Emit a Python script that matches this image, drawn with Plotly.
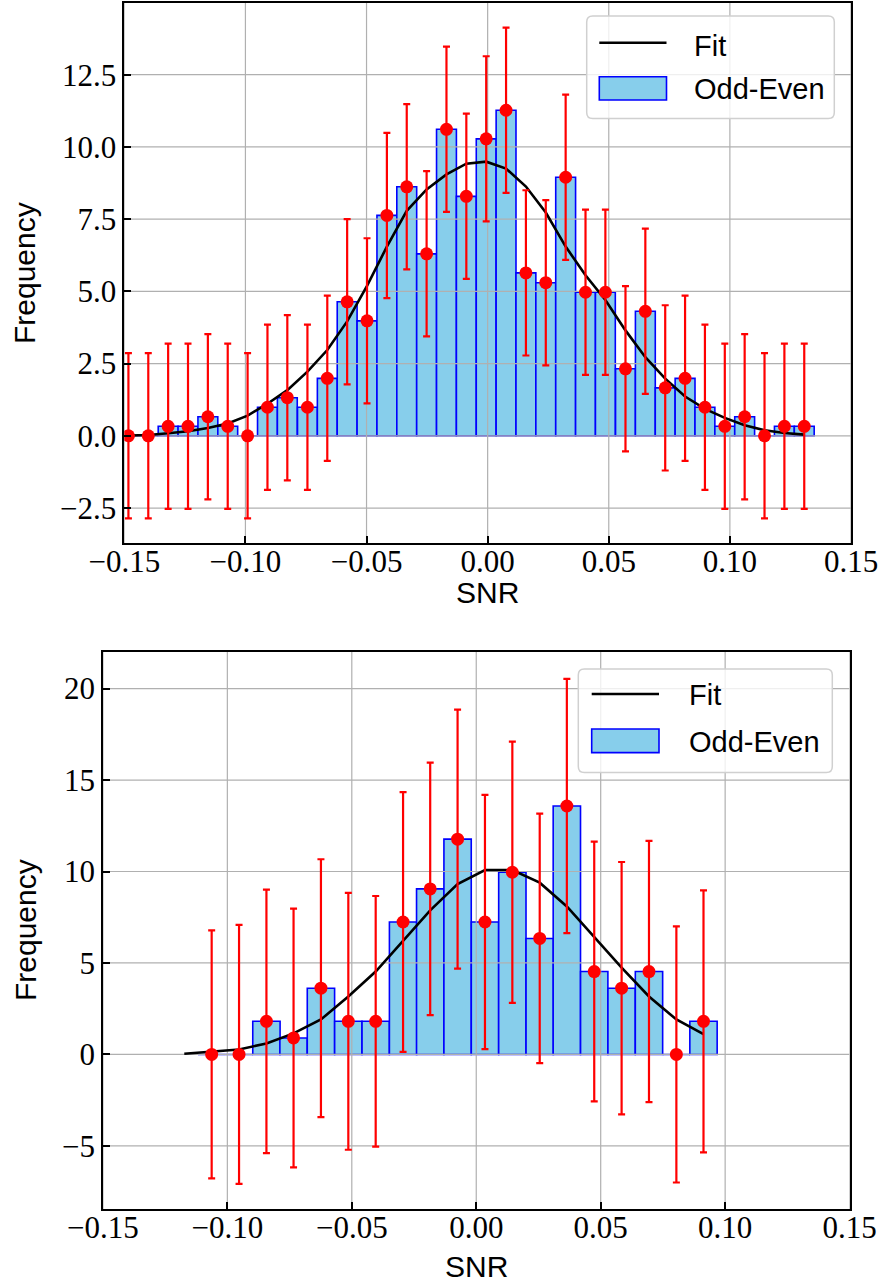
import plotly.graph_objects as go

W, H = 882, 1288

# ---------------- data ----------------
# Top panel
TOP_X = [-0.1483, -0.1401, -0.1319, -0.1237, -0.1155, -0.1073, -0.0991, -0.0909,
         -0.0827, -0.0744, -0.0662, -0.0580, -0.0498, -0.0416, -0.0334, -0.0252,
         -0.0170, -0.0088, -0.0006, 0.0076, 0.0158, 0.0240, 0.0322, 0.0404,
         0.0486, 0.0569, 0.0651, 0.0733, 0.0815, 0.0897, 0.0979, 0.1061,
         0.1143, 0.1225, 0.1307]
TOP_FREQ = [0.00, 0.00, 0.33, 0.33, 0.66, 0.33, 0.00, 0.99, 1.32, 0.99, 1.99,
            4.64, 3.98, 7.63, 8.62, 6.30, 10.61, 8.29, 10.28, 11.27, 5.64, 5.30,
            8.95, 4.97, 4.97, 2.32, 4.31, 1.66, 1.99, 0.99, 0.33, 0.66, 0.00,
            0.33, 0.33]
TOP_FIT = [0.01, 0.03, 0.09, 0.16, 0.27, 0.43, 0.70, 1.11, 1.58, 2.22, 2.97,
           3.96, 5.19, 6.55, 7.79, 8.53, 9.05, 9.42, 9.49, 9.25, 8.63, 7.73,
           6.55, 5.56, 4.70, 3.65, 2.72, 1.98, 1.36, 0.93, 0.62, 0.37, 0.19,
           0.10, 0.04]
TOP_ERR = 2.86
TOP_BIN_WIDTH = 0.0082

# Bottom panel
BOT_X = [-0.1063, -0.0953, -0.0843, -0.0734, -0.0624, -0.0514, -0.0404, -0.0294,
         -0.0185, -0.0075, 0.0035, 0.0145, 0.0255, 0.0364, 0.0474, 0.0584,
         0.0694, 0.0804, 0.0913]
BOT_FREQ = [0.00, 0.00, 1.81, 0.90, 3.62, 1.81, 1.81, 7.24, 9.05, 11.77, 7.24,
            9.96, 6.34, 13.58, 4.53, 3.62, 4.53, 0.00, 1.81]
BOT_ERR = [6.78, 7.08, 7.20, 7.07, 7.05, 7.02, 6.85, 7.10, 6.90, 7.08, 6.95,
           7.14, 6.82, 6.95, 7.10, 6.90, 7.14, 7.00, 7.16]
BOT_FIT_X = [-0.1173, -0.1063, -0.0953, -0.0843, -0.0734, -0.0624, -0.0514,
             -0.0404, -0.0294, -0.0185, -0.0075, 0.0035, 0.0145, 0.0255, 0.0364,
             0.0474, 0.0584, 0.0694, 0.0804, 0.0913]
BOT_FIT = [0.04, 0.15, 0.27, 0.60, 1.15, 1.91, 3.17, 4.53, 6.21, 7.88, 9.31,
           10.08, 10.08, 9.39, 8.09, 6.42, 4.74, 3.17, 1.91, 1.11]
BOT_BIN_WIDTH = 0.01098

# Ticks
X_TICKS = [-0.15, -0.10, -0.05, 0.00, 0.05, 0.10, 0.15]
X_TICK_TEXT = ['\u22120.15', '\u22120.10', '\u22120.05', '0.00', '0.05', '0.10', '0.15']
TOP_Y_TICKS = [-2.5, 0.0, 2.5, 5.0, 7.5, 10.0, 12.5]
TOP_Y_TICK_TEXT = ['\u22122.5', '0.0', '2.5', '5.0', '7.5', '10.0', '12.5']
BOT_Y_TICKS = [-5, 0, 5, 10, 15, 20]
BOT_Y_TICK_TEXT = ['\u22125', '0', '5', '10', '15', '20']

TOP_XRANGE = [-0.15, 0.15]
TOP_YRANGE = [-3.71, 15.0]
BOT_XRANGE = [-0.15, 0.15]
BOT_YRANGE = [-8.45, 22.0]

# ---------------- styling ----------------
SKY = '#87CEEB'
SANS = 'Liberation Sans, Arial, sans-serif'
SERIF = 'Liberation Serif, Times New Roman, serif'
GRID = '#b0b0b0'


def px(x):
    return x / W


def py(y):
    return 1 - y / H


def grid_trace(xt, yt, xr, yr, xa, ya):
    xs, ys = [], []
    for v in xt:
        xs += [v, v, None]
        ys += [yr[0], yr[1], None]
    for v in yt:
        xs += [xr[0], xr[1], None]
        ys += [v, v, None]
    return go.Scatter(x=xs, y=ys, mode='lines', line=dict(color=GRID, width=1.2),
                      hoverinfo='skip', showlegend=False, xaxis=xa, yaxis=ya)


def panel(xc, freq, width, fx, fy, err, xt, yt, xr, yr, xa, ya):
    traces = []
    traces.append(go.Bar(x=xc, y=freq, width=width, marker=dict(color=SKY, line=dict(color='blue', width=1.6)),
                         showlegend=False, xaxis=xa, yaxis=ya))
    traces.append(grid_trace(xt, yt, xr, yr, xa, ya))
    traces.append(go.Scatter(x=fx, y=fy, mode='lines', line=dict(color='black', width=2.6),
                             showlegend=False, xaxis=xa, yaxis=ya))
    if isinstance(err, (int, float)):
        ey = dict(type='constant', value=err, color='red', thickness=2.2, width=3.5)
    else:
        ey = dict(type='data', array=err, color='red', thickness=2.2, width=3.5)
    traces.append(go.Scatter(x=xc, y=freq, mode='markers', marker=dict(color='red', size=13),
                             error_y=ey, showlegend=False, xaxis=xa, yaxis=ya))
    return traces


fig = go.Figure()
for t in panel(TOP_X, TOP_FREQ, TOP_BIN_WIDTH, TOP_X, TOP_FIT, TOP_ERR,
               X_TICKS, TOP_Y_TICKS, TOP_XRANGE, TOP_YRANGE, 'x', 'y'):
    fig.add_trace(t)
for t in panel(BOT_X, BOT_FREQ, BOT_BIN_WIDTH, BOT_FIT_X, BOT_FIT, BOT_ERR,
               X_TICKS, BOT_Y_TICKS, BOT_XRANGE, BOT_YRANGE, 'x2', 'y2'):
    fig.add_trace(t)

axis_common = dict(showgrid=False, zeroline=False, showline=True, mirror=True,
                   linecolor='black', linewidth=1.5, ticks='inside', ticklen=7,
                   tickwidth=1.5, tickcolor='black', tickmode='array', automargin=False,
                   tickfont=dict(family=SERIF, size=31, color='black'))
x_extra = dict(ticklabelstandoff=-10)

fig.update_layout(
    width=W, height=H,
    margin=dict(l=0, r=0, t=0, b=0),
    paper_bgcolor='white', plot_bgcolor='white',
    showlegend=False,
    xaxis=dict(domain=[px(124.3), px(851)], range=TOP_XRANGE, anchor='y',
               tickvals=X_TICKS, ticktext=X_TICK_TEXT, **axis_common, **x_extra),
    yaxis=dict(domain=[py(543), py(2.5)], range=TOP_YRANGE, anchor='x',
               tickvals=TOP_Y_TICKS, ticktext=TOP_Y_TICK_TEXT, **axis_common),
    xaxis2=dict(domain=[px(102.9), px(849.6)], range=BOT_XRANGE, anchor='y2',
                tickvals=X_TICKS, ticktext=X_TICK_TEXT, **axis_common, **x_extra),
    yaxis2=dict(domain=[py(1209), py(652)], range=BOT_YRANGE, anchor='x2',
                tickvals=BOT_Y_TICKS, ticktext=BOT_Y_TICK_TEXT, **axis_common),
)


def rrect(x0, y0, x1, y1, r):
    X0, X1 = px(x0), px(x1)
    Y0, Y1 = py(y0), py(y1)
    rx, ry = r / W, r / H
    return (f"M {X0+rx},{Y0} L {X1-rx},{Y0} Q {X1},{Y0} {X1},{Y0-ry} "
            f"L {X1},{Y1+ry} Q {X1},{Y1} {X1-rx},{Y1} L {X0+rx},{Y1} "
            f"Q {X0},{Y1} {X0},{Y1+ry} L {X0},{Y0-ry} Q {X0},{Y0} {X0+rx},{Y0} Z")


shapes = []
annotations = []


def legend(box, line_y, patch, text_x, fit_y, oe_y):
    shapes.append(dict(type='path', xref='paper', yref='paper', path=rrect(*box, 6),
                       fillcolor='rgba(255,255,255,0.8)', line=dict(color='#d0d0d0', width=1.5),
                       layer='above'))
    shapes.append(dict(type='line', xref='paper', yref='paper', x0=px(patch[0]), x1=px(patch[2]),
                       y0=py(line_y), y1=py(line_y), line=dict(color='black', width=2.6), layer='above'))
    shapes.append(dict(type='rect', xref='paper', yref='paper', x0=px(patch[0]), x1=px(patch[2]),
                       y0=py(patch[3]), y1=py(patch[1]), fillcolor=SKY,
                       line=dict(color='blue', width=1.6), layer='above'))
    annotations.append(dict(text='Fit', x=px(text_x), y=py(fit_y), xref='paper', yref='paper',
                            xanchor='left', yanchor='middle', showarrow=False,
                            font=dict(family=SANS, size=29, color='black')))
    annotations.append(dict(text='Odd-Even', x=px(text_x), y=py(oe_y), xref='paper', yref='paper',
                            xanchor='left', yanchor='middle', showarrow=False,
                            font=dict(family=SANS, size=29, color='black')))


legend((586.7, 16, 834.3, 118.5), 42.7, (599.3, 76.7, 666.5, 100), 691.7, 46, 89)
legend((578.3, 669, 832.3, 772.5), 694, (591.7, 729, 659, 752.6), 686.7, 695, 742)

# axis titles
for (x, y, t, ang) in [(25, 273, 'Frequency', -90), (25, 930, 'Frequency', -90),
                       (487.7, 592, 'SNR', 0), (476.2, 1266, 'SNR', 0)]:
    annotations.append(dict(text=t, x=px(x), y=py(y), xref='paper', yref='paper',
                            xanchor='center', yanchor='middle', showarrow=False, textangle=ang,
                            font=dict(family=SANS, size=30, color='black')))

fig.update_layout(shapes=shapes, annotations=annotations)
fig.write_html('out.html')
